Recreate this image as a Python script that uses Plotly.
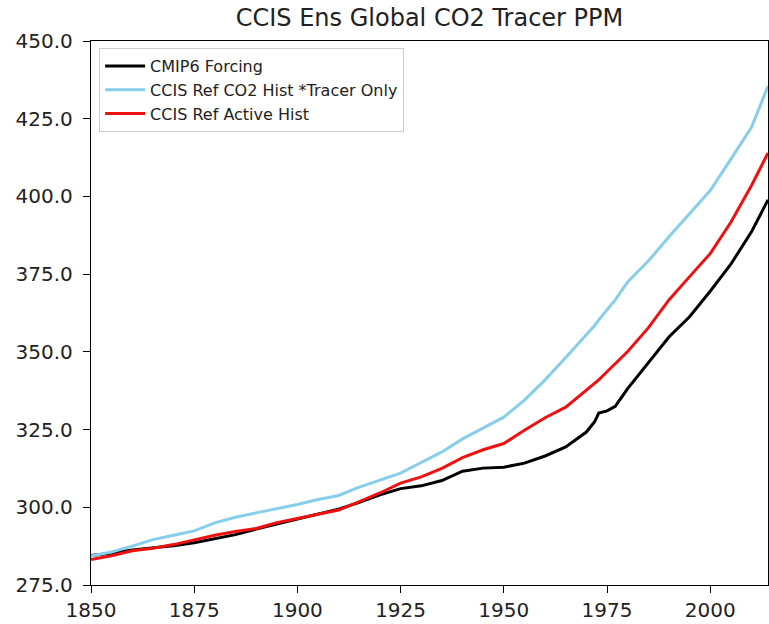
import plotly.graph_objects as go

# Global-mean CO2 (ppm), historical period
years = [1850, 1855, 1860, 1865, 1870, 1875, 1880, 1885, 1890, 1895,
         1900, 1905, 1910, 1915, 1920, 1925, 1930, 1935, 1940, 1945,
         1950, 1955, 1960, 1965, 1970, 1972, 1973, 1975, 1977, 1980,
         1985, 1990, 1995, 2000, 2005, 2010, 2014]

cmip6_forcing = [284.5, 285.2, 286.3, 287.0, 287.6, 288.6, 289.9, 291.2, 293.0, 294.6,
                 296.3, 298.0, 299.4, 301.6, 304.0, 306.0, 306.9, 308.6, 311.6, 312.6,
                 312.9, 314.2, 316.5, 319.4, 324.2, 327.5, 330.3, 331.0, 332.5, 338.2,
                 346.5, 354.8, 361.3, 369.5, 378.2, 388.6, 398.9]

ccis_tracer_only = [284.3, 285.6, 287.5, 289.6, 291.0, 292.4, 295.0, 296.8, 298.2, 299.5,
                    300.9, 302.5, 303.8, 306.5, 308.8, 311.0, 314.4, 317.8, 322.0, 325.5,
                    329.0, 334.5, 341.0, 348.2, 355.5, 358.5, 360.3, 363.5, 366.7, 372.5,
                    379.2, 387.0, 394.5, 401.9, 412.0, 422.2, 435.5]

ccis_active = [283.2, 284.4, 286.0, 286.8, 288.0, 289.5, 291.0, 292.2, 293.2, 295.0,
               296.3, 297.6, 299.1, 301.8, 304.6, 307.8, 309.8, 312.5, 316.0, 318.5,
               320.5, 324.8, 328.8, 332.2, 337.7, 339.8, 341.0, 343.6, 346.2, 350.1,
               357.7, 366.7, 374.2, 381.6, 391.7, 403.5, 414.0]

y_ticks = [275, 300, 325, 350, 375, 400, 425, 450]
x_ticks = [1850, 1875, 1900, 1925, 1950, 1975, 2000]

series = [
    ("CMIP6 Forcing", cmip6_forcing, "black"),
    ("CCIS Ref CO2 Hist *Tracer Only", ccis_tracer_only, "#87CEEB"),
    ("CCIS Ref Active Hist", ccis_active, "#EE1111"),
]

fig = go.Figure()
for name, vals, color in series:
    fig.add_trace(go.Scatter(x=years, y=vals, mode="lines", name=name,
                             line=dict(color=color, width=3)))

font = "DejaVu Sans, Arial, sans-serif"
fig.update_layout(
    width=769, height=624,
    margin=dict(l=91, r=1, t=41, b=39),
    paper_bgcolor="white", plot_bgcolor="white",
    font=dict(family=font, color="black"),
    title=dict(text="CCIS Ens Global CO2 Tracer PPM", x=(91 + 768) / 2 / 769,
               xanchor="center", y=1 - 18 / 624, yanchor="middle",
               font=dict(size=24, color="#222222")),
    showlegend=True,
    legend=dict(x=0.012, y=0.987, xanchor="left", yanchor="top",
                bgcolor="rgba(255,255,255,0.8)", bordercolor="#cccccc", borderwidth=1,
                font=dict(size=16, color="#222222"), tracegroupgap=0, itemwidth=40),
)
fig.update_xaxes(range=[1850, 2014], tickvals=x_ticks, ticks="outside", ticklen=7,
                 tickwidth=1.2, tickcolor="black", showline=True, linecolor="black",
                 linewidth=1.3, mirror=True, showgrid=False, zeroline=False,
                 tickfont=dict(size=20, color="#222222"))
fig.update_yaxes(range=[275, 450], tickvals=y_ticks, tickformat=".1f", ticks="outside",
                 ticklen=7, tickwidth=1.2, tickcolor="black", showline=True,
                 linecolor="black", linewidth=1.3, mirror=True, showgrid=False,
                 zeroline=False, tickfont=dict(size=20, color="#222222"),
                 ticklabelstandoff=6)

fig.write_html("out.html")
